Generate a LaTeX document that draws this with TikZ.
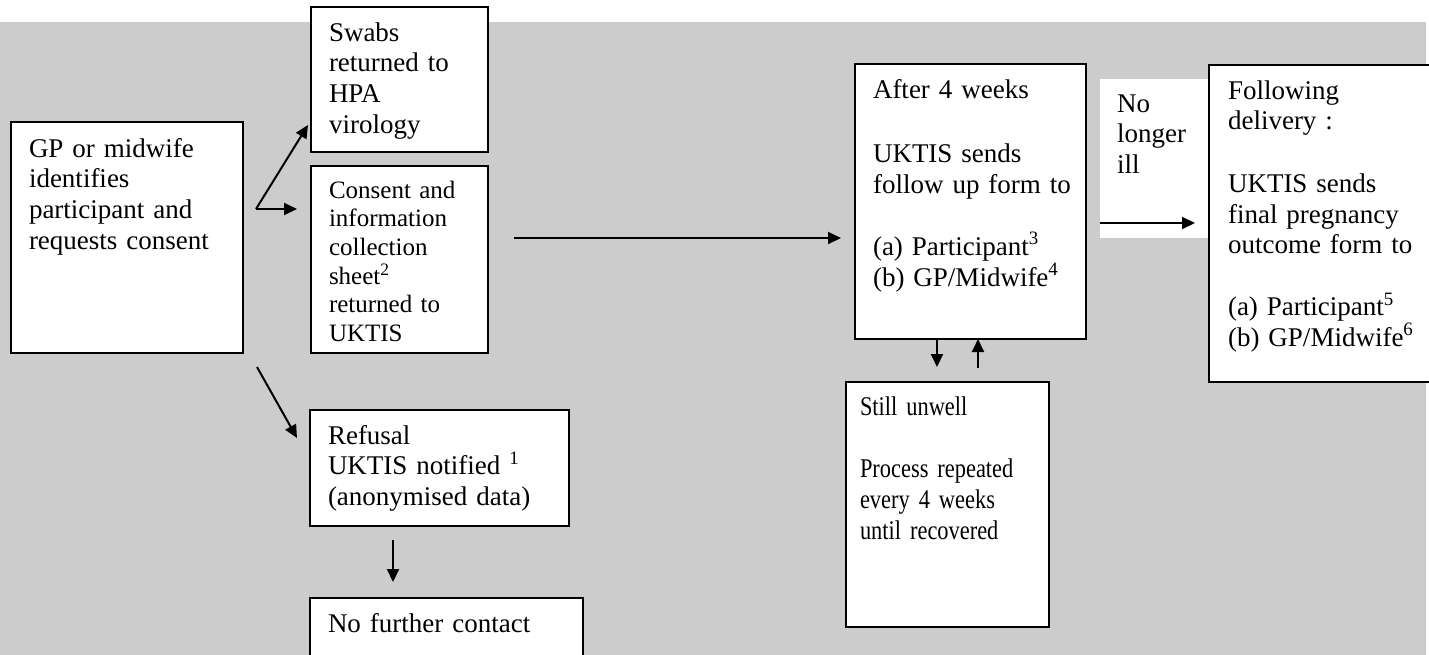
\documentclass[tikz,border=0pt]{standalone}
\usepackage{fontspec}
\setmainfont{Liberation Serif}
\newfontfamily\narrowserif[FakeStretch=0.83]{Liberation Serif}
\usetikzlibrary{arrows.meta}
\definecolor{panelgray}{RGB}{204,204,204}
\tikzset{
  stepbox/.style = {draw=black, line width=1pt, fill=white, anchor=north west,
    align=left, inner xsep=9pt, inner ysep=0pt, outer sep=0pt,
    text height=17pt, font=\fontsize{13.5}{15.35}\selectfont},% white box, text at top
  flow/.style = {->, line width=1pt}% plain arrow
}

\begin{document}
\begin{tikzpicture}[x=0.5pt, y=-0.5pt, >={Triangle[length=6.5pt,width=6pt]}]
  \useasboundingbox (0,0) rectangle (1429,654);
  \fill[panelgray] (0,22) rectangle (1426,660);

  % left column
  \node [stepbox, text width=98pt, text height=17.5pt, text depth=98pt] (gp) at (11,122)
    {GP or midwife\\identifies\\participant and\\requests consent};
  \node [stepbox, text width=70.5pt, text depth=55.5pt] (swabs) at (311,7)
    {Swabs\\returned to\\HPA\\virology};
  \node [stepbox, text width=70.5pt, text height=16pt, text depth=77.5pt,
    font=\fontsize{12.5}{14.35}\selectfont] (consent) at (311,166)
    {Consent and\\information\\collection\\sheet\textsuperscript{2}\\returned to\\UKTIS};
  \node [stepbox, text width=111.5pt, text depth=41pt] (refusal) at (310,410)
    {Refusal\\UKTIS notified \textsuperscript{1}\\(anonymised data)};
  \node [stepbox, text width=118.5pt, text depth=30pt] (nofurther) at (310,598)
    {No further contact};

  % follow up
  \node [stepbox, text width=97.5pt, text depth=120.5pt] (after) at (855,64)
    {After 4 weeks\\[17pt]UKTIS sends\\\mbox{follow up form to}\\[15.6pt](a) Participant\textsuperscript{3}\\(b) GP/Midwife\textsuperscript{4}};
  \node [stepbox, inner xsep=7pt, text width=87.5pt, text height=16.5pt, text depth=106pt,
    font={\narrowserif\fontsize{13.5}{15.35}\selectfont}] (still) at (846,382)
    {Still unwell\\[16pt]Process repeated\\every 4 weeks\\until recovered};
  \node [stepbox, draw=none, inner xsep=8.5pt, text width=37.5pt, text height=16.5pt,
    text depth=63pt] (nolonger) at (1100,79) {No\\longer\\ill};
  \node [stepbox, inner xsep=9.5pt, text width=101pt, text depth=141.5pt] (following) at (1209,65)
    {Following\\delivery :\\[16pt]UKTIS sends\\final pregnancy\\outcome form to\\[15.5pt](a) Participant\textsuperscript{5}\\(b) GP/Midwife\textsuperscript{6}};

  % arrow ends
  \coordinate (fork) at (256,209);
  \coordinate (toswabs) at (308,125);
  \coordinate (toconsent) at (297,209);
  \coordinate (gpfoot) at (257,367);
  \coordinate (torefusal) at (297,438);
  \coordinate (refusalfoot) at (393,540);
  \coordinate (tonofurther) at (393,582);
  \coordinate (consentout) at (514,238);
  \coordinate (toafter) at (841,238);
  \coordinate (tostill) at (937,367);
  \coordinate (stillout) at (978,368);
  \coordinate (nolongerout) at (1100,223);
  \coordinate (tofollowing) at (1195,223);

  \draw [flow] (fork) -- (toswabs);
  \draw [flow] (fork) -- (toconsent);
  \draw [flow] (gpfoot) -- (torefusal);
  \draw [flow] (refusalfoot) -- (tonofurther);
  \draw [flow] (consentout) -- (toafter);
  \draw [flow] (after.south -| tostill) -- (tostill);
  \draw [flow] (stillout) -- (after.south -| stillout);
  \draw [flow] (nolongerout) -- (tofollowing);
\end{tikzpicture}
\end{document}
